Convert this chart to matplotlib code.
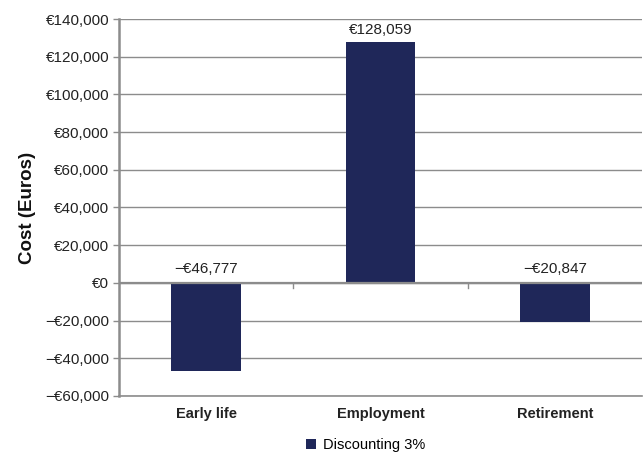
import matplotlib
matplotlib.use("Agg")
import matplotlib.pyplot as plt
from matplotlib.ticker import FuncFormatter

plt.rcParams['font.family'] = ['Liberation Sans', 'DejaVu Sans']

categories = ["Early life", "Employment", "Retirement"]
values = [-46777, 128059, -20847]
labels = ["\u2212\u20ac46,777", "\u20ac128,059", "\u2212\u20ac20,847"]
series_name = "Discounting 3%"
bar_color = "#1f2759"
grid_color = "#8c8c8c"

fig = plt.figure(figsize=(6.44, 4.55), dpi=100)
ax = fig.add_axes([0.185, 0.130, 0.812, 0.828])

x = list(range(len(categories)))
ax.bar(x, values, width=0.4, color=bar_color, label=series_name, zorder=3)

ax.set_xlim(-0.5, 2.5)
ax.set_ylim(-60000, 140000)
ax.set_yticks(range(-60000, 140001, 20000))

def fmt(v, pos):
    v = int(round(v))
    if v == 0:
        return "\u20ac0"
    s = "\u20ac{:,}".format(abs(v))
    return ("\u2212" + s) if v < 0 else s

ax.yaxis.set_major_formatter(FuncFormatter(fmt))
ax.grid(axis='y', color=grid_color, linewidth=1.0, zorder=0)
ax.axhline(0, color=grid_color, linewidth=1.6, zorder=4)

for s in ['top', 'right']:
    ax.spines[s].set_visible(False)
ax.spines['left'].set_color(grid_color)
ax.spines['left'].set_linewidth(1.8)
ax.spines['bottom'].set_color(grid_color)
ax.spines['bottom'].set_linewidth(1.2)

ax.tick_params(axis='y', length=4, width=1, color=grid_color, labelsize=11, labelcolor='#222222', pad=3)
ax.set_xticks(x)
ax.set_xticklabels(categories, fontweight='bold', fontsize=10.5, color='#222222')
ax.tick_params(axis='x', length=0, pad=8)

# small category-boundary ticks on the zero line
for b in [0.5, 1.5]:
    ax.plot([b, b], [0, -3000], color=grid_color, linewidth=1, zorder=4)

ax.set_ylabel("Cost (Euros)", fontsize=13.5, fontweight='bold', labelpad=7, color='#111111')

for xi, v, lab in zip(x, values, labels):
    y = v if v > 0 else 0
    ax.annotate(lab, (xi, y), xytext=(0, 3 if v > 0 else 5), textcoords='offset points',
                ha='center', va='bottom', fontsize=11, color='#222222')

leg = fig.legend(loc='lower center', bbox_to_anchor=(0.568, -0.022), frameon=False,
                 fontsize=10.5, handlelength=0.7, handleheight=0.7, handletextpad=0.5)

fig.savefig("out.png", dpi=100)
